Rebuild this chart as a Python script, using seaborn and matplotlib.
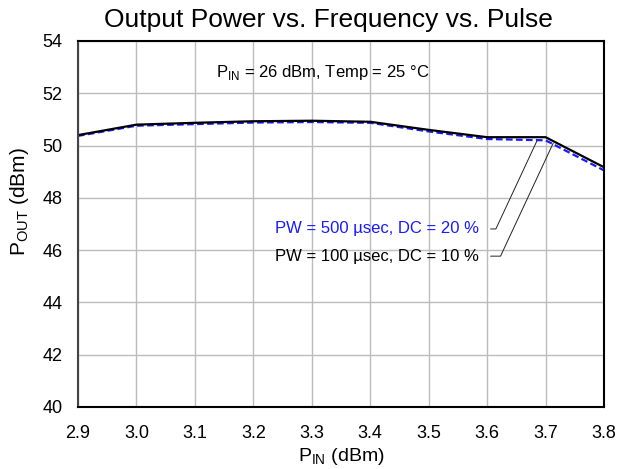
import numpy as np
import pandas as pd
import matplotlib
matplotlib.use("Agg")
import matplotlib.pyplot as plt
import seaborn as sns

# frequency points (x axis, labelled P_IN)
freq = [2.9, 3.0, 3.1, 3.2, 3.3, 3.4, 3.5, 3.6, 3.7, 3.8]
pout_100us = [50.40, 50.80, 50.87, 50.93, 50.95, 50.91, 50.60, 50.32, 50.32, 49.17]
pout_500us = [50.37, 50.76, 50.82, 50.88, 50.90, 50.87, 50.54, 50.25, 50.20, 49.05]
series_names = ["PW = 100 \u00b5sec, DC = 10 %", "PW = 500 \u00b5sec, DC = 20 %"]

df = pd.DataFrame({
    "freq": freq * 2,
    "pout": pout_100us + pout_500us,
    "series": [series_names[0]] * len(freq) + [series_names[1]] * len(freq),
})

sns.set_style("white")
plt.rcParams['font.family'] = ['Liberation Sans', 'DejaVu Sans']
plt.rcParams['text.color'] = 'black'
plt.rcParams['axes.labelcolor'] = 'black'
plt.rcParams['xtick.color'] = 'black'
plt.rcParams['ytick.color'] = 'black'

fig = plt.figure(figsize=(6.17, 4.69), dpi=100)
ax = fig.add_axes([0.1264, 0.1322, 0.8526, 0.7804])

palette = {series_names[0]: "black", series_names[1]: "#1a1aff"}
dashes = {series_names[0]: "", series_names[1]: (3, 1.5)}
sns.lineplot(data=df, x="freq", y="pout", hue="series", style="series",
             palette=palette, dashes=dashes, linewidth=1.6, legend=False, ax=ax,
             hue_order=series_names[::-1], style_order=series_names[::-1])

ax.set_xlim(2.9, 3.8)
ax.set_ylim(40, 54)
ax.set_xticks(freq)
ax.set_xticklabels([f"{v:.1f}" for v in freq])
ax.set_yticks(np.arange(40, 55, 2))
ax.grid(True, color="#bcbcbc", linewidth=1.0)
ax.tick_params(axis="x", labelsize=13, length=0, pad=13)
ax.tick_params(axis="y", labelsize=13, length=0, pad=11)
for side in ["left", "bottom", "right", "top"]:
    ax.spines[side].set_color("black")
    ax.spines[side].set_linewidth(1.5)
ax.spines["left"].set_color("#444444")

ax.set_title("Output Power vs. Frequency vs. Pulse", fontsize=19, pad=10, x=0.477)
ax.set_xlabel("P$_{\\mathregular{IN}}$ (dBm)", fontsize=14, labelpad=3)
ax.set_ylabel("P$_{\\mathregular{OUT}}$ (dBm)", fontsize=15)
ax.yaxis.set_label_coords(-0.09, 0.56)

ax.text(3.318, 52.81, "P$_{\\mathregular{IN}}$ = 26 dBm, Temp = 25 \u00b0C",
        ha="center", va="center", fontsize=12)

# leader-line annotations
ax.annotate(series_names[1], xy=(3.685, 50.17), xytext=(3.586, 46.81),
            ha="right", va="center", fontsize=12, color="#1a1aff",
            arrowprops=dict(arrowstyle="-", color="#222222", linewidth=0.7,
                            relpos=(1, 0.5), shrinkA=6, shrinkB=0,
                            connectionstyle="angle,angleA=0,angleB=65,rad=0"))
ax.annotate(series_names[0], xy=(3.713, 50.09), xytext=(3.586, 45.77),
            ha="right", va="center", fontsize=12, color="black",
            arrowprops=dict(arrowstyle="-", color="#222222", linewidth=0.7,
                            relpos=(1, 0.5), shrinkA=6, shrinkB=0,
                            connectionstyle="angle,angleA=0,angleB=65,rad=0"))

fig.savefig("out.png", dpi=100)
